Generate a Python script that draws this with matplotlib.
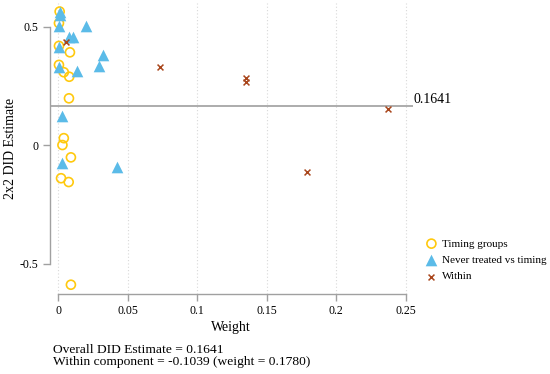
import matplotlib.pyplot as plt

# 2x2 DID estimates vs weights
timing_w = [0.001, 0.0005, 0.0005, 0.0084, 0.0005, 0.004, 0.0079, 0.0077,
            0.004, 0.003, 0.0091, 0.002, 0.0075, 0.0091]
timing_est = [0.564, 0.515, 0.419, 0.392, 0.339, 0.308, 0.289, 0.198,
              0.030, 0.001, -0.051, -0.139, -0.155, -0.588]

never_w = [0.0012, 0.0012, 0.0005, 0.0197, 0.0079, 0.0108, 0.0005, 0.0324,
           0.029, 0.0005, 0.0132, 0.003, 0.003, 0.0424]
never_est = [0.564, 0.550, 0.503, 0.503, 0.456, 0.456, 0.414, 0.381,
             0.335, 0.332, 0.315, 0.124, -0.073, -0.090]

within_w = [0.0055, 0.0732, 0.135, 0.135, 0.1787, 0.237]
within_est = [0.437, 0.329, 0.283, 0.268, -0.111, 0.153]

overall = 0.1641
within_comp = -0.1039
within_weight = 0.1780

xticks = [0, 0.05, 0.1, 0.15, 0.2, 0.25]
xticklabels = ["0", "0.05", "0.1", "0.15", "0.2", "0.25"]
yticks = [-0.5, 0, 0.5]
yticklabels = ["-0.5", "0", "0.5"]

plt.rcParams['font.family'] = ['Liberation Serif', 'DejaVu Serif']

fig = plt.figure(figsize=(5.5, 3.74), dpi=100)
ax = fig.add_axes([0.090, 0.214, 0.661, 0.778])

ax.set_xlim(-0.0063, 0.2552)
ax.set_ylim(-0.627, 0.600)

# dotted vertical grid at the x ticks
for t in xticks:
    ax.axvline(t, color='#d8d8d8', lw=0.8, ls=(0, (1, 2)), zorder=0)

ax.axhline(overall, color='#a6a6a6', lw=1.3, zorder=1)
ax.text(0.2552 + 0.0005, overall, "%.4f" % overall, fontsize=10,
        va='bottom', ha='left', clip_on=False)

ax.scatter(timing_w, timing_est, s=42, facecolors='none', edgecolors='#ffc90e',
           linewidths=1.2, label='Timing groups', zorder=2)
ax.scatter(never_w, never_est, s=70, marker='^', color='#5bbbe8',
           linewidths=0, label='Never treated vs timing', zorder=3)
ax.scatter(within_w, within_est, s=18, marker='x', color='#a9461c',
           linewidths=1.1, label='Within', zorder=4)

for side in ['top', 'right']:
    ax.spines[side].set_visible(False)
for side in ['left', 'bottom']:
    ax.spines[side].set_color('#a0a0a0')
    ax.spines[side].set_linewidth(1.0)
ax.spines['left'].set_bounds(-0.5, 0.5)
ax.spines['bottom'].set_bounds(0, 0.25)

ax.set_xticks(xticks)
ax.set_xticklabels(xticklabels)
ax.set_yticks(yticks)
ax.set_yticklabels(yticklabels)
ax.tick_params(axis='both', colors='#a0a0a0', length=5, width=1.0,
               labelcolor='black', labelsize=8.5, pad=3)

ax.set_xlabel('Weight', fontsize=10, labelpad=3)
ax.set_ylabel('2x2 DID Estimate', fontsize=10, labelpad=2)

leg = ax.legend(loc='upper left', bbox_to_anchor=(1.023, 0.205), frameon=False,
                fontsize=8, handletextpad=0.45, borderaxespad=0,
                labelspacing=0.6, handlelength=1.0, scatterpoints=1)

fig.text(53 / 550, 1 - 350 / 374, "Overall DID Estimate = %.4f" % overall,
         fontsize=9.7, va='center', ha='left')
fig.text(53 / 550, 1 - 361.5 / 374,
         "Within component = %.4f (weight = %.4f)" % (within_comp, within_weight),
         fontsize=9.7, va='center', ha='left')

fig.savefig('out.png', dpi=100)
